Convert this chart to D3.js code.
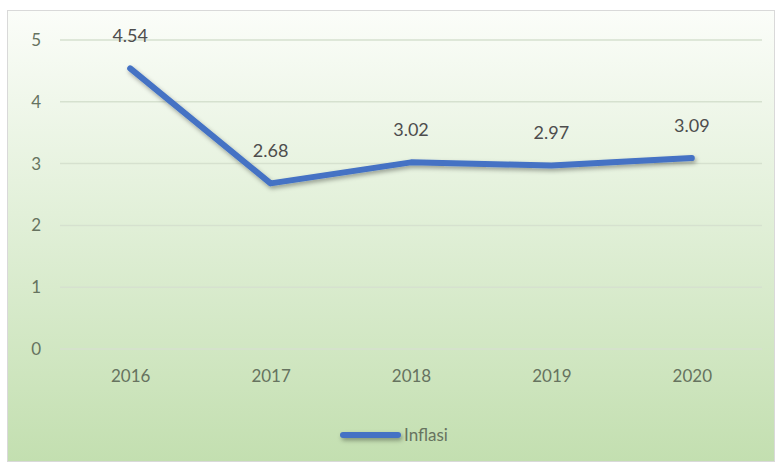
<!DOCTYPE html>
<html><head><meta charset="utf-8">
<script src="https://cdn.jsdelivr.net/npm/d3@7"></script>
<style>body{margin:0;background:#fff}svg{display:block}text{font-family:Lato,"Open Sans",sans-serif}</style>
</head><body><svg id="c" width="779" height="465"></svg>
<script>
const years = ["2016","2017","2018","2019","2020"];
const inflasi = [4.54, 2.68, 3.02, 2.97, 3.09];
const yTicks = [0,1,2,3,4,5];
const seriesName = "Inflasi";

const svg = d3.select("#c");
const defs = svg.append("defs");
const g = defs.append("linearGradient").attr("id","bg").attr("x1",0).attr("y1",0).attr("x2",0).attr("y2",1);
g.append("stop").attr("offset","0%").attr("stop-color","#fbfdf9");
g.append("stop").attr("offset","45%").attr("stop-color","#e2f0d9");
g.append("stop").attr("offset","100%").attr("stop-color","#c3dfb0");
const f = defs.append("filter").attr("id","sh").attr("filterUnits","userSpaceOnUse")
  .attr("x",0).attr("y",0).attr("width",779).attr("height",465);
f.append("feDropShadow").attr("dx",1.5).attr("dy",2.5).attr("stdDeviation",2).attr("flood-color","#000").attr("flood-opacity",0.35);

svg.append("rect").attr("x",7.5).attr("y",10.5).attr("width",767).attr("height",451)
  .attr("fill","url(#bg)").attr("stroke","#d9d9d9");

const x = d3.scalePoint().domain(years).range([60,762]).padding(0.5);
const y = d3.scaleLinear().domain([0,5]).range([349,40]);

const grid = svg.append("g");
grid.selectAll("line").data(yTicks).join("line")
  .attr("x1",60).attr("x2",762).attr("y1",d=>y(d)).attr("y2",d=>y(d))
  .attr("stroke","#d6e1cf").attr("stroke-width",1.5);

const ya = svg.append("g").attr("transform","translate(41,0)")
  .call(d3.axisLeft(y).tickValues(yTicks).tickSize(0).tickPadding(0).tickFormat(d3.format("d")));
ya.select(".domain").remove();
ya.selectAll("text").attr("font-size",17).attr("fill","#66735f").attr("font-family","Lato,sans-serif");

const xa = svg.append("g").attr("transform","translate(0,370)")
  .call(d3.axisBottom(x).tickSize(0).tickPadding(0));
xa.select(".domain").remove();
xa.selectAll("text").attr("font-size",17).attr("fill","#66735f").attr("font-family","Lato,sans-serif").attr("dy","0.71em");

const line = d3.line().x((d,i)=>x(years[i])).y(d=>y(d));
svg.append("path").datum(inflasi).attr("d",line).attr("fill","none")
  .attr("stroke","#4472c4").attr("stroke-width",6).attr("stroke-linejoin","round").attr("stroke-linecap","round")
  .attr("filter","url(#sh)");

svg.append("g").selectAll("text").data(inflasi).join("text")
  .attr("x",(d,i)=>x(years[i])).attr("y",d=>y(d)-26)
  .attr("text-anchor","middle").attr("font-size",18).attr("fill","#4d4d4d")
  .text(d=>d.toFixed(2));

const lg = svg.append("g");
lg.append("line").attr("x1",343).attr("x2",398).attr("y1",435).attr("y2",435)
  .attr("stroke","#4472c4").attr("stroke-width",6).attr("stroke-linecap","round").attr("filter","url(#sh)");
lg.append("text").attr("x",404).attr("y",441).attr("font-size",17).attr("fill","#66735f").text(seriesName);
</script></body></html>
